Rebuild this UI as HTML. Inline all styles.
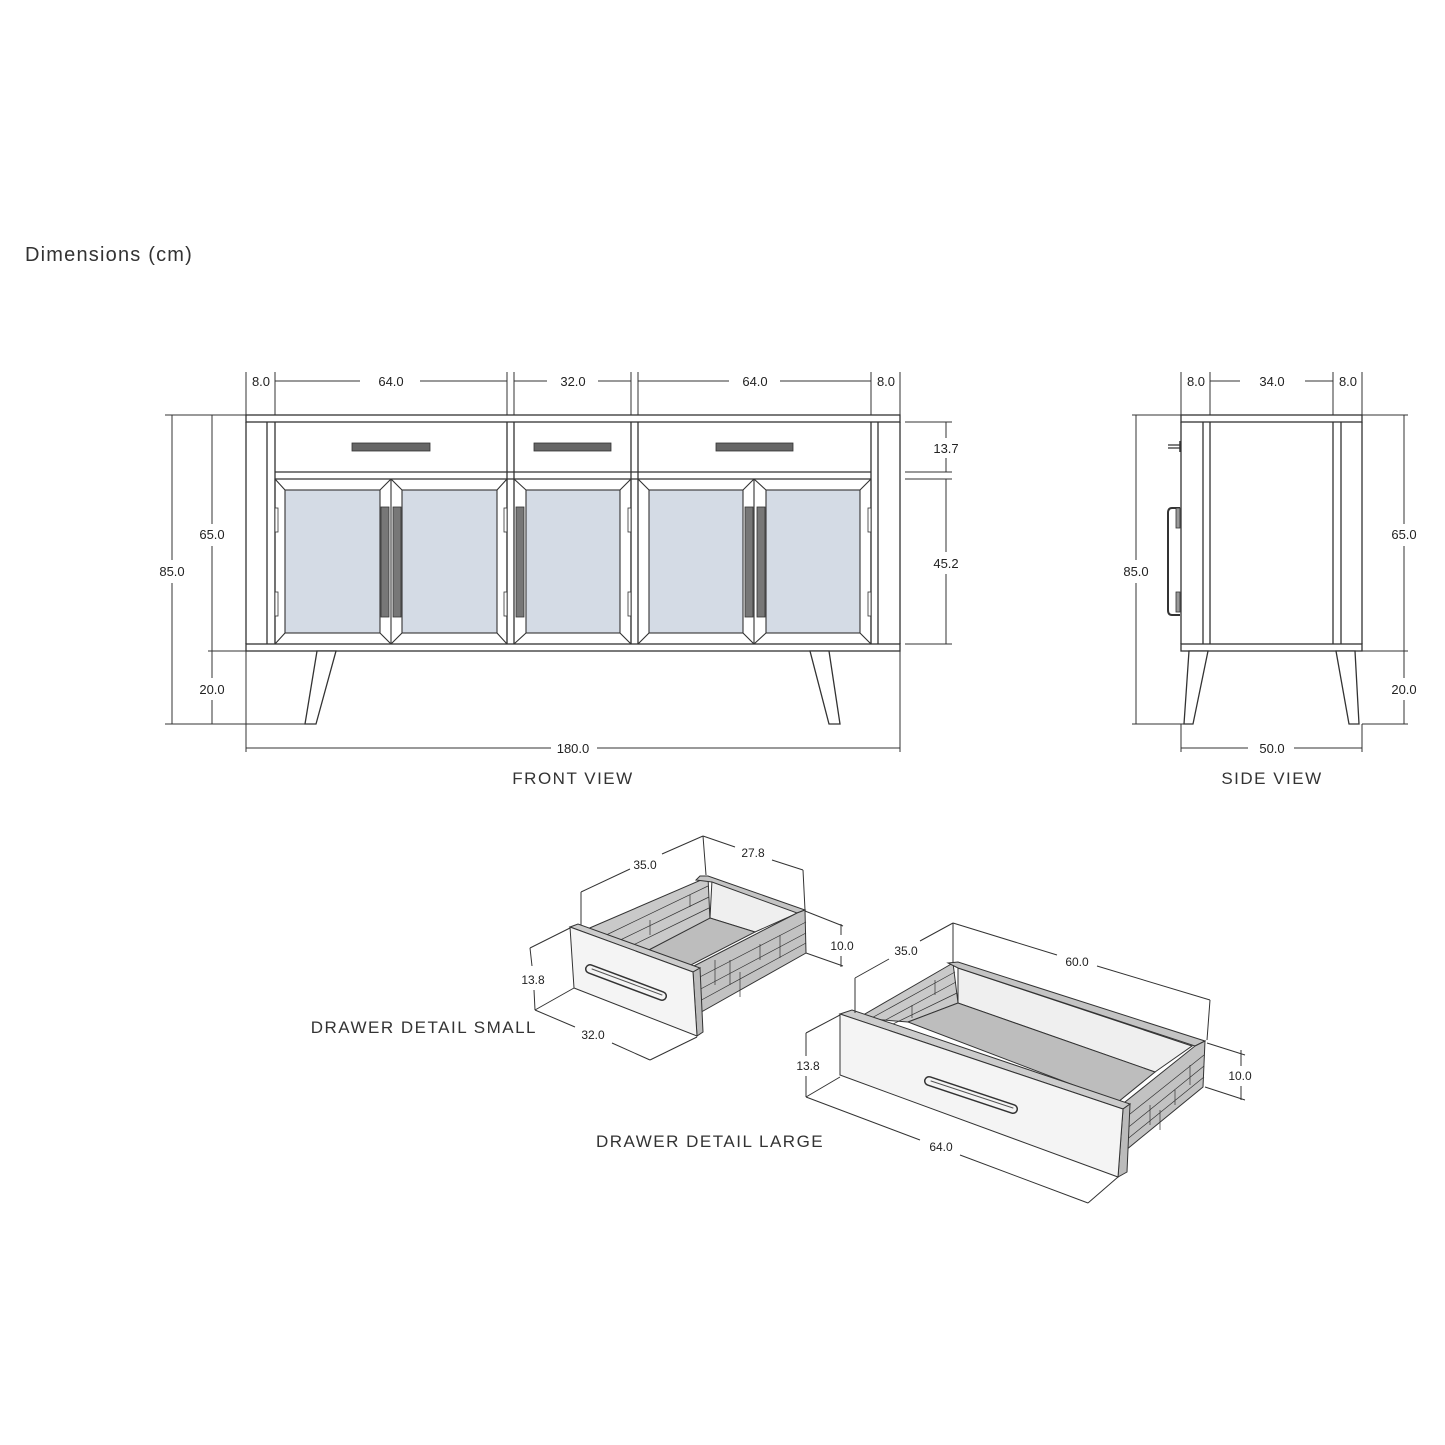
<!DOCTYPE html>
<html><head><meta charset="utf-8"><style>
html,body{margin:0;padding:0;background:#fff}
svg{display:block}
.d{font-family:"Liberation Sans",Arial,sans-serif;font-size:13px;fill:#222}
.s{font-family:"Liberation Sans",Arial,sans-serif;font-size:12px;fill:#222}
.l{font-family:"Liberation Sans",Arial,sans-serif;font-size:17px;fill:#333;letter-spacing:1.5px}
</style></head><body>
<svg width="1445" height="1445" viewBox="0 0 1445 1445" xmlns="http://www.w3.org/2000/svg">
<rect width="1445" height="1445" fill="#fff"/>
<text x="25" y="261" class="l" style="font-size:20px;letter-spacing:1.2px">Dimensions (cm)</text>

<!-- FRONT VIEW -->
<g stroke="#333" stroke-width="1.3" fill="none">
 <rect x="246" y="415" width="654" height="7" fill="#fff"/>
 <rect x="246" y="644" width="654" height="7" fill="#fff"/>
 <line x1="246" y1="422" x2="246" y2="644"/><line x1="900" y1="422" x2="900" y2="644"/>
 <line x1="267" y1="422" x2="267" y2="644"/><line x1="275" y1="422" x2="275" y2="644"/>
 <line x1="871" y1="422" x2="871" y2="644"/><line x1="878" y1="422" x2="878" y2="644"/>
 <line x1="507" y1="422" x2="507" y2="644"/><line x1="514" y1="422" x2="514" y2="644"/>
 <line x1="631" y1="422" x2="631" y2="644"/><line x1="638" y1="422" x2="638" y2="644"/>
 <line x1="275" y1="472" x2="871" y2="472"/><line x1="275" y1="479" x2="871" y2="479"/>
 <polygon points="317,651 336,651 316,724 305,724" fill="#fff"/>
 <polygon points="810,651 829,651 840,724 829,724" fill="#fff"/>
</g>
<g fill="#666" stroke="#333" stroke-width="0.8">
 <rect x="352" y="443" width="78" height="8"/><rect x="534" y="443" width="77" height="8"/><rect x="716" y="443" width="77" height="8"/>
</g>
<g stroke="#333" stroke-width="1.1">
 <g fill="#d4dbe5">
  <rect x="285" y="490" width="95" height="143"/>
  <rect x="402" y="490" width="95" height="143"/>
  <rect x="526" y="490" width="94" height="143"/>
  <rect x="649" y="490" width="94" height="143"/>
  <rect x="766" y="490" width="94" height="143"/>
 </g>
 <g fill="none">
  <path d="M275 479 L391 479 L391 644 L275 644 Z M275 479 L285 490 M391 479 L380 490 M275 644 L285 633 M391 644 L380 633"/>
  <path d="M391 479 L507 479 L507 644 L391 644 M391 479 L402 490 M507 479 L497 490 M391 644 L402 633 M507 644 L497 633"/>
  <path d="M514 479 L631 479 L631 644 L514 644 M514 479 L526 490 M631 479 L620 490 M514 644 L526 633 M631 644 L620 633"/>
  <path d="M638 479 L754 479 L754 644 L638 644 M638 479 L649 490 M754 479 L743 490 M638 644 L649 633 M754 644 L743 633"/>
  <path d="M754 479 L871 479 L871 644 M754 479 L766 490 M871 479 L860 490 M754 644 L766 633 M871 644 L860 633"/>
 </g>
 <g fill="#777" stroke-width="0.8">
  <rect x="381" y="507" width="8" height="110"/><rect x="393" y="507" width="8" height="110"/>
  <rect x="516" y="507" width="8" height="110"/>
  <rect x="745" y="507" width="8" height="110"/><rect x="757" y="507" width="8" height="110"/>
 </g>
 <g fill="#fff" stroke-width="0.8">
  <rect x="275" y="508" width="3" height="24"/><rect x="275" y="592" width="3" height="24"/>
  <rect x="504" y="508" width="3" height="24"/><rect x="504" y="592" width="3" height="24"/>
  <rect x="628" y="508" width="3" height="24"/><rect x="628" y="592" width="3" height="24"/>
  <rect x="868" y="508" width="3" height="24"/><rect x="868" y="592" width="3" height="24"/>
 </g>
</g>
<g stroke="#333" stroke-width="1" fill="none">
 <path d="M246 372V415 M275 372V415 M507 372V415 M514 372V415 M631 372V415 M638 372V415 M871 372V415 M900 372V415"/>
 <path d="M275 381H360 M420 381H507 M514 381H547 M598 381H631 M638 381H729 M780 381H871"/>
 <path d="M165 415H246 M208 651H246 M165 724H305 M172 415V560 M172 583V724 M212 415V524 M212 546V651 M212 651V678 M212 700V724"/>
 <path d="M905 422H952 M905 472H952 M905 479H952 M905 644H952 M946 422V438 M946 458V472 M946 479V552 M946 574V644"/>
 <path d="M246 651V752 M900 651V752 M246 748H551 M597 748H900"/>
</g>
<g class="d" text-anchor="middle">
 <text x="261" y="386">8.0</text><text x="391" y="386">64.0</text><text x="573" y="386">32.0</text><text x="755" y="386">64.0</text><text x="886" y="386">8.0</text>
 <text x="172" y="576">85.0</text><text x="212" y="539">65.0</text><text x="212" y="694">20.0</text>
 <text x="946" y="453">13.7</text><text x="946" y="568">45.2</text>
 <text x="573" y="753">180.0</text>
</g>
<text x="573" y="784" class="l" text-anchor="middle">FRONT VIEW</text>

<!-- SIDE VIEW -->
<g stroke="#333" stroke-width="1.3" fill="#fff">
 <rect x="1181" y="415" width="181" height="7"/>
 <rect x="1181" y="644" width="181" height="7"/>
 <path d="M1181 422V644 M1362 422V644 M1203 422V644 M1210 422V644 M1333 422V644 M1341 422V644" fill="none"/>
 <polygon points="1189,651 1208,651 1193,724 1184,724"/>
 <polygon points="1336,651 1355,651 1359,724 1349,724"/>
 <path d="M1180 508 H1172 Q1168 508 1168 513 V610 Q1168 615 1172 615 H1180" fill="none" stroke-width="2"/>
 <rect x="1176" y="508" width="4" height="20" stroke-width="0.8" fill="#999"/><rect x="1176" y="592" width="4" height="20" stroke-width="0.8" fill="#999"/>
 <path d="M1168 445H1180 M1168 448H1180" fill="none" stroke-width="1.2"/>
 <line x1="1180" y1="441" x2="1180" y2="452" stroke-width="1.5"/>
</g>
<g stroke="#333" stroke-width="1" fill="none">
 <path d="M1181 372V415 M1210 372V415 M1333 372V415 M1362 372V415 M1210 381H1240 M1305 381H1333"/>
 <path d="M1132 415H1181 M1132 724H1184 M1136 415V560 M1136 583V724"/>
 <path d="M1362 415H1408 M1362 651H1408 M1362 724H1408 M1404 415V524 M1404 546V651 M1404 651V678 M1404 700V724"/>
 <path d="M1181 724V752 M1362 724V752 M1181 748H1248 M1294 748H1362"/>
</g>
<g class="d" text-anchor="middle">
 <text x="1196" y="386">8.0</text><text x="1272" y="386">34.0</text><text x="1348" y="386">8.0</text>
 <text x="1136" y="576">85.0</text><text x="1404" y="539">65.0</text><text x="1404" y="694">20.0</text>
 <text x="1272" y="753">50.0</text>
</g>
<text x="1272" y="784" class="l" text-anchor="middle">SIDE VIEW</text>

<!-- SMALL DRAWER -->
<g stroke="#333" stroke-width="1">
 <polygon points="585,930 708,877 710,920 643,953 600,940" fill="#c9c9c9"/>
 <path d="M600 938 L708 886 M612 944 L709 897 M625 949 L709 908 M650 920 L650 935 M690 895 L690 907" fill="none" stroke-width="0.7"/>
 <polygon points="712,880 800,912 755,932 710,918" fill="#efefef"/>
 <polygon points="643,953 710,918 755,932 687,967" fill="#bdbdbd"/>
 <polygon points="700,876 708,876 805,910 797,913 712,882 696,880" fill="#c4c4c4"/>
 <polygon points="690,968 797,913 805,910 806,953 696,1015" fill="#c2c2c2"/>
 <path d="M694 980 L806 922 M695 992 L806 933 M696 1003 L806 943 M715 960 L715 985 M740 972 L740 997 M780 935 L780 958 M760 944 L760 960 M730 960 L730 985" fill="none" stroke-width="0.7"/>
 <polygon points="570,927 578,924 700,968 693,972" fill="#ccc"/>
 <polygon points="693,972 700,968 703,1032 697,1036" fill="#bbb"/>
 <polygon points="570,927 693,972 697,1036 574,988" fill="#f4f4f4"/>
</g>
<g fill="none" stroke-linecap="round">
 <line x1="590" y1="969" x2="662" y2="996" stroke="#333" stroke-width="10"/>
 <line x1="590" y1="969" x2="662" y2="996" stroke="#f4f4f4" stroke-width="7"/>
 <line x1="592" y1="969" x2="662" y2="995" stroke="#555" stroke-width="1"/>
</g>
<g stroke="#333" stroke-width="1" fill="none">
 <path d="M581 892L630 869 M662 854L703 836 M581 892V925 M703 836L706 875 M703 836L735 847 M772 860L803 870 M803 870L805 910"/>
 <path d="M805 911L843 926 M806 953L843 966 M841 924V935 M841 956V967"/>
 <path d="M570 928L530 948 M574 988L535 1010 M530 948L532 966 M534 990L535 1010 M535 1010L575 1027 M612 1043L650 1060 M697 1037L650 1060"/>
</g>
<g class="s" text-anchor="middle">
 <text x="645" y="869">35.0</text><text x="753" y="857">27.8</text><text x="842" y="950">10.0</text>
 <text x="533" y="984">13.8</text><text x="593" y="1039">32.0</text>
</g>
<text x="537" y="1033" class="l" text-anchor="end">DRAWER DETAIL SMALL</text>

<!-- LARGE DRAWER -->
<g stroke="#333" stroke-width="1">
 <polygon points="858,1018 953,963 958,1003 908,1022" fill="#c9c9c9"/>
 <path d="M868 1020 L955 972 M880 1023 L956 982 M893 1024 L957 993 M935 980 L935 995 M912 1005 L912 1018" fill="none" stroke-width="0.7"/>
 <polygon points="958,968 1192,1046 1155,1072 958,1003" fill="#efefef"/>
 <polygon points="908,1022 958,1003 1155,1072 1118,1102" fill="#bdbdbd"/>
 <polygon points="948,963 958,962 1205,1041 1195,1046 958,968" fill="#c4c4c4"/>
 <polygon points="1120,1106 1195,1046 1205,1041 1203,1087 1126,1150" fill="#c2c2c2"/>
 <path d="M1125 1118 L1204 1055 M1125 1130 L1204 1066 M1125 1141 L1204 1077 M1150 1105 L1150 1125 M1175 1090 L1175 1105 M1160 1110 L1160 1130 M1190 1065 L1190 1085" fill="none" stroke-width="0.7"/>
 <polygon points="840,1014 852,1010 1130,1104 1123,1109" fill="#ccc"/>
 <polygon points="1123,1109 1130,1104 1127,1172 1118,1177" fill="#bbb"/>
 <polygon points="840,1014 1123,1109 1118,1177 840,1075" fill="#f4f4f4"/>
</g>
<g fill="none" stroke-linecap="round">
 <line x1="929" y1="1081" x2="1013" y2="1109" stroke="#333" stroke-width="10"/>
 <line x1="929" y1="1081" x2="1013" y2="1109" stroke="#f4f4f4" stroke-width="7"/>
 <line x1="931" y1="1081" x2="1013" y2="1108" stroke="#555" stroke-width="1"/>
</g>
<g stroke="#333" stroke-width="1" fill="none">
 <path d="M855 978L889 959 M920 941L953 923 M855 978V1013 M953 923V962 M953 923L1057 955 M1097 966L1210 1000 M1210 1000L1207 1040"/>
 <path d="M1207 1043L1245 1055 M1205 1087L1245 1100 M1241 1050V1066 M1241 1086V1100"/>
 <path d="M840 1015L806 1033 M840 1077L806 1097 M806 1033V1056 M806 1076V1097 M806 1097L920 1140 M960 1155L1088 1203 M1118 1177L1088 1203"/>
</g>
<g class="s" text-anchor="middle">
 <text x="906" y="955">35.0</text><text x="1077" y="966">60.0</text><text x="1240" y="1080">10.0</text>
 <text x="808" y="1070">13.8</text><text x="941" y="1151">64.0</text>
</g>
<text x="596" y="1147" class="l">DRAWER DETAIL LARGE</text>
</svg>
</body></html>
